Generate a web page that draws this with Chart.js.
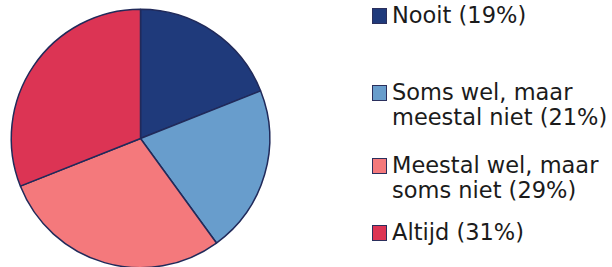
<!DOCTYPE html>
<html>
<head>
<meta charset="utf-8">
<script src="https://cdn.jsdelivr.net/npm/chart.js@4/dist/chart.umd.min.js"></script>
<style>
  html, body { margin: 0; padding: 0; background: #fff; width: 612px; height: 267px; overflow: hidden; position: relative; }
  #pieBox { position: absolute; left: 0; top: 0; width: 281px; height: 277px; }
  .item { position: absolute; left: 372px; font-family: "DejaVu Sans", sans-serif; font-size: 22.5px; line-height: 24.5px; color: #1b1b1b; white-space: nowrap; }
  .sw { position: absolute; left: 0; width: 13px; height: 14px; border: 1px solid #2b2f5c; box-sizing: content-box; }
  .tx { position: absolute; left: 20px; top: 0; }
</style>
</head>
<body>
<div id="pieBox"><canvas id="c"></canvas></div>
<div id="legend"></div>
<script>
// Data
const categories = [
  ['Nooit'],
  ['Soms wel, maar', 'meestal niet'],
  ['Meestal wel, maar', 'soms niet'],
  ['Altijd']
];
const values = [19, 21, 29, 31];
const colors = ['#1f3a7b', '#689dcc', '#f4797c', '#dc3454'];

// legend item vertical positions (top of text box)
const legendTops = [3, 80, 153, 220];

const ctx = document.getElementById('c');
new Chart(ctx, {
  type: 'pie',
  data: {
    labels: categories.map(c => c.join(' ')),
    datasets: [{
      data: values,
      backgroundColor: colors,
      borderColor: '#212a5a',
      borderWidth: 1.5
    }]
  },
  options: {
    responsive: true,
    maintainAspectRatio: false,
    animation: false,
    layout: { padding: 8.5 },
    plugins: { legend: { display: false }, tooltip: { enabled: false } }
  }
});

// HTML legend built from the data arrays
const lg = document.getElementById('legend');
categories.forEach((lines, i) => {
  const item = document.createElement('div');
  item.className = 'item';
  item.style.top = legendTops[i] + 'px';
  const sw = document.createElement('div');
  sw.className = 'sw';
  sw.style.background = colors[i];
  sw.style.top = '5px';
  const tx = document.createElement('div');
  tx.className = 'tx';
  const ls = lines.slice();
  ls[ls.length - 1] = ls[ls.length - 1] + ' (' + values[i] + '%)';
  tx.innerHTML = ls.map(s => s.replace(/&/g, '&amp;').replace(/</g, '&lt;')).join('<br>');
  item.appendChild(sw);
  item.appendChild(tx);
  lg.appendChild(item);
});
</script>
</body>
</html>
